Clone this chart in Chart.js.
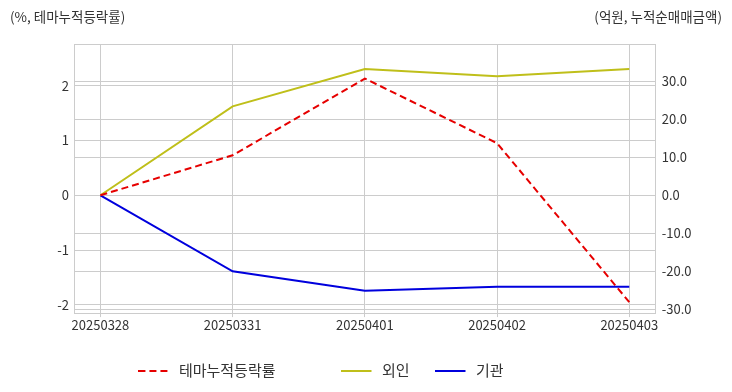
<!DOCTYPE html>
<html>
<head>
<meta charset="utf-8">
<script src="https://cdn.jsdelivr.net/npm/chart.js@4"></script>
<style>
  body { margin: 0; background: #fff; }
  #wrap { position: relative; width: 732px; height: 392px; }
  .unit {
    position: absolute; top: 6px; font-size: 13.5px; color: #333;
    font-family: 'Noto Sans CJK KR', 'Noto Sans', sans-serif;
  }
  #unitLeft { left: 10px; }
  #unitRight { right: 10px; }
</style>
</head>
<body>
<div id="wrap">
  <canvas id="chart" width="732" height="392"></canvas>
  <div class="unit" id="unitLeft">(%, 테마누적등락률)</div>
  <div class="unit" id="unitRight">(억원, 누적순매매금액)</div>
</div>
<script>
// data
const dates = ['20250328', '20250331', '20250401', '20250402', '20250403'];
const themeRate = [0, 0.73, 2.13, 0.95, -1.95];      // %, left axis
const foreignNet = [0, 23.4, 33.2, 31.3, 33.2];      // 억원, right axis
const institutionNet = [0, -20.0, -25.1, -24.1, -24.1];

const leftTicks = [-2, -1, 0, 1, 2];
const rightTicks = [-30, -20, -10, 0, 10, 20, 30];

const gridColor = '#cccccc';
const textColor = '#333333';

Chart.defaults.font.family = "'Noto Sans CJK KR', 'Noto Sans', sans-serif";
Chart.defaults.font.size = 13;
Chart.defaults.color = textColor;

const toPoints = (arr) => arr.map((v, i) => ({ x: i, y: v }));

// small canvas used as the legend symbol, so the dash shows up
// (33 wide, line on the first 30 px -> a bit more room before the text)
function legendIcon(color, dash) {
    const c = document.createElement('canvas');
    c.width = 33;
    c.height = 2;
    const g = c.getContext('2d');
    g.strokeStyle = color;
    g.lineWidth = 2;
    g.setLineDash(dash);
    g.beginPath();
    g.moveTo(0, 1);
    g.lineTo(30, 1);
    g.stroke();
    return c;
}

// top edge of the plot box
const frame = {
    id: 'frame',
    beforeDatasetsDraw(chart) {
        const { ctx, chartArea: a } = chart;
        ctx.save();
        ctx.strokeStyle = gridColor;
        ctx.lineWidth = 1;
        ctx.beginPath();
        ctx.moveTo(a.left, Math.round(a.top) + 0.5);
        ctx.lineTo(a.right, Math.round(a.top) + 0.5);
        ctx.stroke();
        ctx.restore();
    }
};

const ctx = document.getElementById('chart').getContext('2d');

new Chart(ctx, {
    type: 'line',
    data: {
        datasets: [
            {
                label: '테마누적등락률',
                data: toPoints(themeRate),
                yAxisID: 'y',
                borderColor: '#e60000',
                borderWidth: 2,
                borderDash: [7, 4],
                pointRadius: 0,
                fill: false,
            },
            {
                label: '외인',
                data: toPoints(foreignNet),
                yAxisID: 'y1',
                borderColor: '#bfbf1a',
                borderWidth: 2,
                pointRadius: 0,
                fill: false,
            },
            {
                label: '기관',
                data: toPoints(institutionNet),
                yAxisID: 'y1',
                borderColor: '#0000dd',
                borderWidth: 2,
                pointRadius: 0,
                fill: false,
            },
        ]
    },
    options: {
        responsive: false,
        animation: false,
        devicePixelRatio: 1,
        layout: { padding: { top: 44, left: 0, right: 0, bottom: 4 } },
        scales: {
            x: {
                type: 'linear',
                min: -0.2,
                max: 4.2,
                afterBuildTicks: (axis) => { axis.ticks = dates.map((_, i) => ({ value: i })); },
                afterFit: (axis) => { axis.height = 24; },
                ticks: {
                    callback: (v) => dates[v],
                    maxRotation: 0,
                    autoSkip: false,
                    padding: 0,
                    color: textColor,
                },
                grid: { color: gridColor, tickLength: 4 },
                border: { color: gridColor },
            },
            y: {
                position: 'left',
                min: -2.15,
                max: 2.76,
                afterBuildTicks: (axis) => { axis.ticks = leftTicks.map(v => ({ value: v })); },
                afterFit: (axis) => { axis.width = 74; },
                ticks: { padding: 5, color: textColor },
                grid: { color: gridColor, drawTicks: false },
                border: { color: gridColor },
            },
            y1: {
                position: 'right',
                min: -31.0,
                max: 39.8,
                afterBuildTicks: (axis) => { axis.ticks = rightTicks.map(v => ({ value: v })); },
                afterFit: (axis) => { axis.width = 76.3; },
                ticks: {
                    padding: 6,
                    color: textColor,
                    callback: (v) => v.toFixed(1),
                },
                grid: { color: gridColor, drawTicks: false },
                border: { color: gridColor },
            },
        },
        plugins: {
            legend: {
                position: 'bottom',
                labels: {
                    usePointStyle: true,
                    pointStyleWidth: 33,
                    padding: 25.9,
                    color: textColor,
                    font: { size: 15 },
                    generateLabels: (chart) => {
                        const items = Chart.defaults.plugins.legend.labels.generateLabels(chart);
                        chart.data.datasets.forEach((ds, i) => {
                            items[i].pointStyle = legendIcon(ds.borderColor, ds.borderDash || []);
                        });
                        // spacing as in the original legend
                        items[0].text += '\u3000\u3000   ';
                        items[2].text += '\u3000'.repeat(6);
                        return items;
                    },
                },
            },
            tooltip: { enabled: false },
        },
    },
    plugins: [frame],
});
</script>
</body>
</html>
